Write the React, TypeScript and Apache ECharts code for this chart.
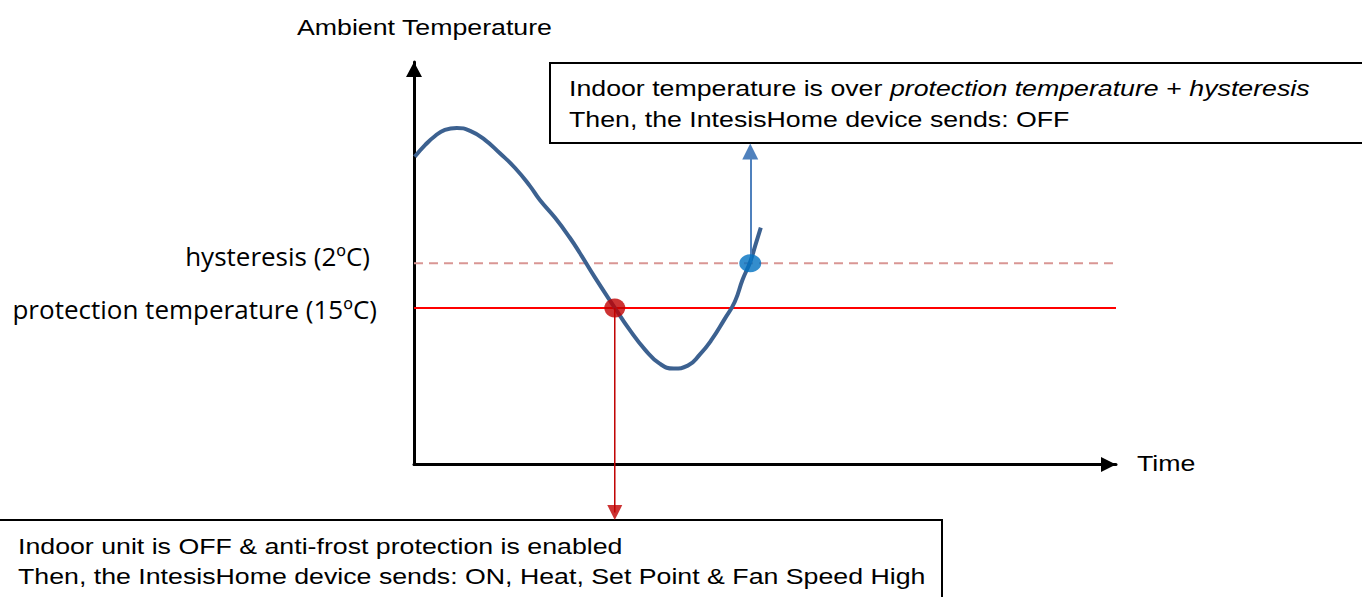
import React, { useEffect, useRef } from 'react';
import * as echarts from 'echarts';

// Curve of ambient temperature over time
const timeValues = [0.1, 1.6, 3, 4.4, 6.1, 8, 10.1, 12.2, 14.4, 16.5, 17.9, 20.1, 22.2, 23.6, 25.7, 28.6, 30.7, 32.9, 35, 37, 39, 40.7, 42.4, 44.2, 45.7, 46.8, 47.9, 48.6, 49.4];
const tempValues = [21.76, 22.29, 22.69, 22.96, 23.05, 22.92, 22.52, 21.93, 21.26, 20.46, 19.84, 19.03, 18.14, 17.47, 16.4, 15.01, 14.03, 13.14, 12.51, 12.29, 12.42, 12.91, 13.58, 14.48, 15.28, 16.26, 17.07, 17.78, 18.59];

const protectionTemp = 15;
const hysteresis = 2;
const onTime = 28.6; // protection temperature crossed (unit switched ON)
const offTime = 47.9; // protection + hysteresis crossed (unit switched OFF)
const timeRange = [0, 100];
const tempRange = [8, 26];
const onArrowTip = 5.52; // arrow down to the lower note
const onArrowHead = 5.85;
const offArrowEnd = 22.0; // arrow up to the upper note

const labelFont = '"Open Sans", "Noto Sans", sans-serif';
const arialFont = '"Liberation Sans", Arial, sans-serif';
const FS = 22;
const SX = 1.215;

export default function App() {
  const ref = useRef<HTMLDivElement>(null);
  useEffect(() => {
    if (!ref.current) return;
    const chart = echarts.init(ref.current, undefined, { renderer: 'svg' });
    const curve = timeValues.map((t, i) => [t, tempValues[i]]);
    const hystTemp = protectionTemp + hysteresis;
    const txt = (text: string, x: number, y: number) => ({
      type: 'text', x, y, scaleX: SX, z: 10,
      style: { text, fontFamily: arialFont, fontSize: FS, fill: '#000', align: 'left', verticalAlign: 'middle' },
    });
    const option: any = {
      animation: false,
      backgroundColor: '#ffffff',
      grid: { left: 414, right: 246, top: 62, bottom: 132.5 },
      xAxis: {
        type: 'value', min: timeRange[0], max: timeRange[1],
        axisLine: {
          show: true, onZero: false,
          symbol: ['none', 'triangle'], symbolSize: [15, 15], symbolOffset: [0, -7.5],
          lineStyle: { color: '#000', width: 3 },
        },
        axisTick: { show: false }, axisLabel: { show: false }, splitLine: { show: false },
      },
      yAxis: {
        type: 'value', min: tempRange[0], max: tempRange[1],
        axisLine: {
          show: true, onZero: false,
          symbol: ['none', 'triangle'], symbolSize: [16, 15], symbolOffset: [0, -7.5],
          lineStyle: { color: '#000', width: 3 },
        },
        axisTick: { show: false }, axisLabel: { show: false }, splitLine: { show: false },
      },
      series: [
        {
          type: 'line', data: [[timeRange[0], protectionTemp], [timeRange[1], protectionTemp]],
          showSymbol: false, silent: true, clip: false, z: 2,
          lineStyle: { color: '#ff0000', width: 2 },
        },
        {
          type: 'line', data: [[timeRange[0], hystTemp], [timeRange[1], hystTemp]],
          showSymbol: false, silent: true, clip: false, z: 2,
          lineStyle: { color: '#d99694', width: 2, type: [9, 6] },
        },
        {
          type: 'line', data: [[onTime, protectionTemp], [onTime, onArrowHead]],
          showSymbol: false, silent: true, clip: false, z: 4,
          lineStyle: { color: '#c00000', width: 1.5 },
        },
        {
          type: 'scatter', data: [[onTime, onArrowHead]], symbol: 'triangle', symbolRotate: 180,
          symbolSize: [15, 15], itemStyle: { color: '#c00000' }, silent: true, clip: false, z: 4,
        },
        {
          type: 'line', data: curve, smooth: true, showSymbol: false, silent: true, clip: false, z: 3,
          lineStyle: { color: '#3c6190', width: 4 },
        },
        {
          type: 'scatter', data: [[onTime, protectionTemp]], symbol: 'circle', symbolSize: [21, 19],
          itemStyle: { color: '#c00000' }, silent: true, z: 5,
        },
        {
          type: 'scatter', data: [[offTime, hystTemp]], symbol: 'circle', symbolSize: [22, 18],
          itemStyle: { color: '#0070c0' }, silent: true, clip: false, z: 5,
          markLine: {
            silent: true, symbol: ['none', 'triangle'], symbolSize: 16,
            label: { show: false },
            lineStyle: { color: '#4f81bd', width: 2, type: 'solid' },
            data: [[{ coord: [offTime, hystTemp] }, { coord: [offTime, offArrowEnd] }]],
          },
        },
      ],
      graphic: [
        { type: 'rect', shape: { x: 550, y: 63, width: 900, height: 80 }, style: { fill: '#fff', stroke: '#000', lineWidth: 2 }, z: 1 },
        { type: 'rect', shape: { x: -2, y: 520, width: 944, height: 100 }, style: { fill: '#fff', stroke: '#000', lineWidth: 2 }, z: 1 },
        txt('Ambient Temperature', 297, 27),
        txt('Time', 1137, 463),
        {
          type: 'text', x: 370, y: 256, z: 10,
          style: { text: 'hysteresis (2ºC)', fontFamily: labelFont, fontSize: 26, fill: '#000', align: 'right', verticalAlign: 'middle' },
        },
        {
          type: 'text', x: 377, y: 309, z: 10,
          style: { text: 'protection temperature (15ºC)', fontFamily: labelFont, fontSize: 26, fill: '#000', align: 'right', verticalAlign: 'middle' },
        },
        {
          type: 'text', x: 569, y: 88, scaleX: SX, z: 10,
          style: {
            text: '{n|Indoor temperature is over }{i|protection temperature}{n| + }{i|hysteresis}',
            rich: {
              n: { fontFamily: arialFont, fontSize: FS, fill: '#000' },
              i: { fontFamily: arialFont, fontSize: FS, fontStyle: 'italic', fill: '#000' },
            },
            fontFamily: arialFont, fontSize: FS, fill: '#000', align: 'left', verticalAlign: 'middle',
          },
        },
        txt('Then, the IntesisHome device sends: OFF', 569, 119),
        txt('Indoor unit is OFF & anti-frost protection is enabled', 18, 546),
        txt('Then, the IntesisHome device sends: ON, Heat, Set Point & Fan Speed High', 18, 576),
      ],
    };
    chart.setOption(option);
    return () => chart.dispose();
  }, []);
  return <div ref={ref} style={{ position: 'absolute', left: 0, top: 0, width: 1362, height: 597 }} />;
}
